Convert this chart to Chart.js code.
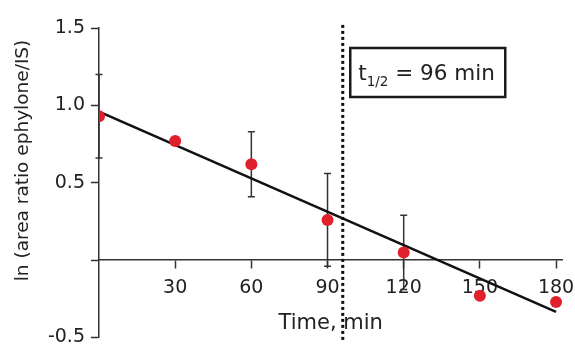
<!DOCTYPE html>
<html><head><meta charset="utf-8">
<script src="https://cdn.jsdelivr.net/npm/chart.js@4"></script>
<style>html,body{margin:0;padding:0;background:#fff}#wrap{width:575px;height:350px;position:relative}</style>
</head><body><div id="wrap"><canvas id="c"></canvas></div>
<script>
// ---- data ----
const timesMin = [0, 30, 60, 90, 120, 150, 180];
const lnRatio = [0.93, 0.77, 0.62, 0.26, 0.05, -0.23, -0.27];
const lnRatioErr = [0.27, 0, 0.21, 0.30, 0.24, 0, 0];
const fitTimes = [0, 180];
const fitValues = [0.96, -0.335];
const halfLifeMin = 96;
const halfLifeSpan = [1.52, -0.52];
const xTickValues = [30, 60, 90, 120, 150, 180];
const xTickLabels = ['30', '60', '90', '120', '150', '180'];
const yTickValues = [-0.5, 0, 0.5, 1.0, 1.5];
const yTickLabels = ['-0.5', '', '0.5', '1.0', '1.5'];
const xTitle = 'Time, min';
const yTitle = 'ln (area ratio ephylone/IS)';
const boxLabelMain = 't';
const boxLabelSub = '1/2';
const boxLabelRest = ' = 96 min';

const FONT = '"DejaVu Sans", "Open Sans", sans-serif';
const TXT = '#222';
const RED = '#e0202a';

const errorBars = {
  id: 'errorBars',
  beforeDatasetsDraw(chart) {
    const {ctx, scales: {x, y}} = chart;
    ctx.save();
    ctx.strokeStyle = '#333';
    ctx.lineWidth = 1.5;
    timesMin.forEach((t, i) => {
      const e = lnRatioErr[i];
      if (!e) return;
      const px = x.getPixelForValue(t);
      const yt = y.getPixelForValue(lnRatio[i] + e);
      const yb = y.getPixelForValue(lnRatio[i] - e);
      ctx.beginPath();
      ctx.moveTo(px, yt); ctx.lineTo(px, yb);
      ctx.moveTo(px - 3.5, yt); ctx.lineTo(px + 3.5, yt);
      ctx.moveTo(px - 3.5, yb); ctx.lineTo(px + 3.5, yb);
      ctx.stroke();
    });
    ctx.restore();
  }
};

const extras = {
  id: 'extras',
  afterDraw(chart) {
    const {ctx, chartArea, scales: {x}} = chart;
    ctx.save();
    // y-axis title
    ctx.fillStyle = TXT;
    ctx.font = '18.5px ' + FONT;
    ctx.textAlign = 'center';
    ctx.textBaseline = 'middle';
    ctx.translate(23, 160.5);
    ctx.rotate(-Math.PI / 2);
    ctx.fillText(yTitle, 0, 0);
    ctx.restore();

    // half-life box
    ctx.save();
    const left = x.getPixelForValue(halfLifeMin) + 7.5;
    const top = chartArea.top + 20;
    const w = 155, h = 49;
    ctx.lineWidth = 2.5;
    ctx.strokeStyle = '#1a1a1a';
    ctx.strokeRect(left, top, w, h);
    ctx.fillStyle = TXT;
    ctx.textBaseline = 'alphabetic';
    ctx.textAlign = 'left';
    let tx = left + 8;
    const base = top + 32;
    ctx.font = '21.5px ' + FONT;
    ctx.fillText(boxLabelMain, tx, base);
    tx += ctx.measureText(boxLabelMain).width;
    ctx.font = '13.5px ' + FONT;
    ctx.fillText(boxLabelSub, tx, base + 6);
    tx += ctx.measureText(boxLabelSub).width;
    ctx.font = '21.5px ' + FONT;
    ctx.fillText(boxLabelRest, tx, base);
    ctx.restore();
  }
};

function zeroPad(s) { s.paddingLeft = 0; s.paddingRight = 0; s.paddingTop = 0; s.paddingBottom = 0; }

new Chart(document.getElementById('c'), {
  type: 'scatter',
  data: {
    datasets: [
      {
        label: 'ln ratio',
        data: timesMin.map((t, i) => ({x: t, y: lnRatio[i]})),
        backgroundColor: RED,
        borderWidth: 0,
        pointRadius: 6,
        order: 0
      },
      {
        label: 'fit',
        type: 'line',
        data: fitTimes.map((t, i) => ({x: t, y: fitValues[i]})),
        borderColor: '#111',
        borderWidth: 2.5,
        pointRadius: 0,
        fill: false,
        order: 1
      },
      {
        label: 't1/2',
        type: 'line',
        data: halfLifeSpan.map(v => ({x: halfLifeMin, y: v})),
        borderColor: '#111',
        borderWidth: 3,
        borderDash: [3, 3],
        pointRadius: 0,
        fill: false,
        clip: false,
        order: 2
      }
    ]
  },
  options: {
    responsive: true,
    maintainAspectRatio: false,
    animation: false,
    events: [],
    layout: {autoPadding: false, padding: {left: 0, top: 28, right: 12.6, bottom: 12.5}},
    plugins: {legend: {display: false}, tooltip: {enabled: false}},
    scales: {
      x: {
        type: 'linear',
        position: {y: 0},
        min: 0,
        max: 182.5,
        afterBuildTicks: s => { s.ticks = xTickValues.map(v => ({value: v})); },
        afterFit: s => { s.height = 76; zeroPad(s); },
        ticks: {
          callback: v => xTickLabels[xTickValues.indexOf(v)],
          color: TXT,
          font: {family: FONT, size: 19},
          padding: 9,
          maxRotation: 0,
          autoSkip: false
        },
        grid: {drawOnChartArea: false, drawTicks: true, tickLength: 8, tickColor: '#333', tickWidth: 1.5},
        border: {display: true, color: '#333', width: 1.5},
        title: {display: true, text: xTitle, color: TXT, font: {family: FONT, size: 21}, padding: 0}
      },
      y: {
        type: 'linear',
        position: 'left',
        min: -0.5,
        max: 1.5,
        afterBuildTicks: s => { s.ticks = yTickValues.map(v => ({value: v})); },
        afterFit: s => { s.width = 99; zeroPad(s); },
        ticks: {
          callback: v => yTickLabels[yTickValues.indexOf(v)],
          color: TXT,
          font: {family: FONT, size: 19},
          padding: 6,
          autoSkip: false
        },
        grid: {drawOnChartArea: false, drawTicks: true, tickLength: 8, tickColor: '#333', tickWidth: 1.5},
        border: {display: true, color: '#333', width: 1.5}
      }
    }
  },
  plugins: [errorBars, extras]
});
</script></body></html>
